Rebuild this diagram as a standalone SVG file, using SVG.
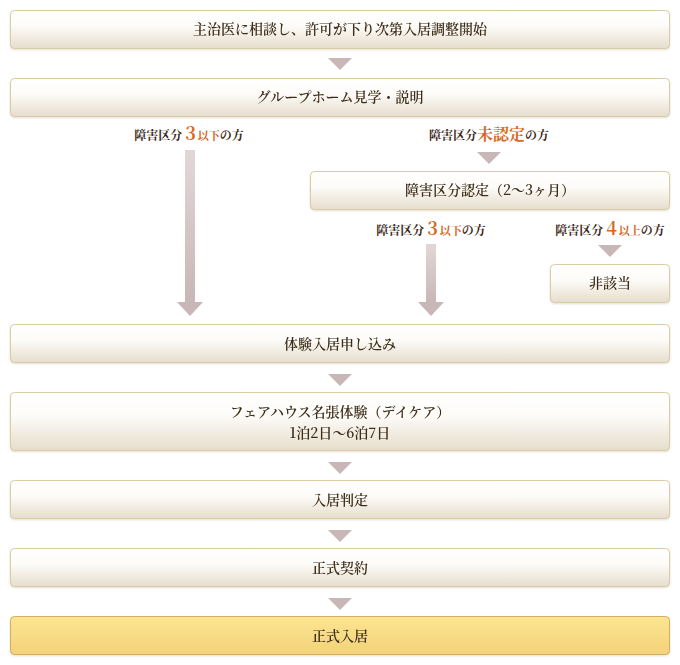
<svg xmlns="http://www.w3.org/2000/svg" width="680" height="665" viewBox="0 0 680 665">
<style>
.box{fill:url(#bg);stroke:#d9cba3;stroke-width:1}
.gold{fill:url(#gg);stroke:#d2ae62;stroke-width:1}
.t{font-family:"Noto Serif CJK JP","Noto Sans CJK JP",serif;font-size:14px;font-weight:600;fill:#3e2f1a;text-anchor:middle}
.l{font-family:"Noto Serif CJK JP","Noto Sans CJK JP",serif;font-size:12px;font-weight:bold;fill:#3a2618;text-anchor:middle}
.o{fill:#d9681f}
.big{font-size:18px}
.tri{fill:#c9b7b7}
</style>
<defs>
<linearGradient id="bg" x1="0" y1="0" x2="0" y2="1">
<stop offset="0" stop-color="#ffffff"/><stop offset="0.4" stop-color="#fdfcf9"/><stop offset="1" stop-color="#e6ddcc"/>
</linearGradient>
<linearGradient id="gg" x1="0" y1="0" x2="0" y2="1">
<stop offset="0" stop-color="#fde591"/><stop offset="1" stop-color="#f3d27a"/>
</linearGradient>
<linearGradient id="ag" x1="0" y1="0" x2="0" y2="1">
<stop offset="0" stop-color="#e2d7d7"/><stop offset="1" stop-color="#c9b6b6"/>
</linearGradient>
<filter id="sh" x="-5%" y="-20%" width="110%" height="150%"><feDropShadow dx="0" dy="1" stdDeviation="1" flood-color="#b0a080" flood-opacity="0.35"/></filter>
</defs>
<g id="connectors">
<polygon class="tri" points="328,58 352,58 340,70"/>
<rect x="185" y="150" width="10" height="153" fill="url(#ag)"/>
<polygon class="tri" points="177,302 203,302 190,316"/>
<polygon class="tri" points="477,152 501,152 489,164"/>
<rect x="426" y="244" width="10" height="59" fill="url(#ag)"/>
<polygon class="tri" points="418,302 444,302 431,316"/>
<polygon class="tri" points="598,245 622,245 610,257"/>
<polygon class="tri" points="328,374 352,374 340,386"/>
<polygon class="tri" points="328,462 352,462 340,474"/>
<polygon class="tri" points="328,530 352,530 340,542"/>
<polygon class="tri" points="328,598 352,598 340,610"/>
</g>
<g id="labels">
<text class="l" x="189" y="140">障害区分<tspan class="o big" dx="3">3</tspan><tspan class="o" font-size="11" dx="2">以下</tspan>の方</text>
<text class="l" x="489" y="140">障害区分<tspan class="o" font-size="16">未認定</tspan>の方</text>
<text class="l" x="431" y="235">障害区分<tspan class="o big" dx="3">3</tspan><tspan class="o" font-size="11" dx="2">以下</tspan>の方</text>
<text class="l" x="610" y="235">障害区分<tspan class="o big" dx="3">4</tspan><tspan class="o" font-size="11" dx="2">以上</tspan>の方</text>
</g>
<g id="n1" filter="url(#sh)"><rect class="box" x="10.5" y="10.5" width="659" height="38" rx="4"/><text class="t" x="340" y="34">主治医に相談し、許可が下り次第入居調整開始</text></g>
<g id="n2" filter="url(#sh)"><rect class="box" x="10.5" y="78.5" width="659" height="38" rx="4"/><text class="t" x="340" y="102">グループホーム見学・説明</text></g>
<g id="n3" filter="url(#sh)"><rect class="box" x="310.5" y="171.5" width="359" height="38" rx="4"/><text class="t" x="490" y="195">障害区分認定（2～3ヶ月）</text></g>
<g id="n4" filter="url(#sh)"><rect class="box" x="550.5" y="264.5" width="119" height="38" rx="4"/><text class="t" x="610" y="288">非該当</text></g>
<g id="n5" filter="url(#sh)"><rect class="box" x="10.5" y="324.5" width="659" height="38" rx="4"/><text class="t" x="340" y="349">体験入居申し込み</text></g>
<g id="n6" filter="url(#sh)"><rect class="box" x="10.5" y="392.5" width="659" height="58" rx="4"/><text class="t" x="340" y="417">フェアハウス名張体験（デイケア）</text><text class="t" x="340" y="438" font-size="13">1泊2日～6泊7日</text></g>
<g id="n7" filter="url(#sh)"><rect class="box" x="10.5" y="480.5" width="659" height="38" rx="4"/><text class="t" x="340" y="505">入居判定</text></g>
<g id="n8" filter="url(#sh)"><rect class="box" x="10.5" y="548.5" width="659" height="38" rx="4"/><text class="t" x="340" y="573">正式契約</text></g>
<g id="n9" filter="url(#sh)"><rect class="gold" x="10.5" y="616.5" width="659" height="38" rx="4"/><text class="t" x="340" y="641">正式入居</text></g>
</svg>
